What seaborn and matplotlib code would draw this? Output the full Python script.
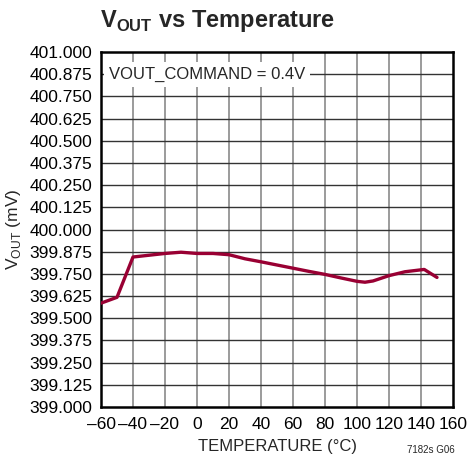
import matplotlib
matplotlib.use("Agg")
import matplotlib.pyplot as plt
from matplotlib import font_manager
import seaborn as sns
import pandas as pd

temperature = [-60, -50, -40, -30, -20, -10, 0, 10, 20, 30, 40, 50, 60, 70,
               80, 90, 100, 105, 110, 120, 130, 142, 150]
vout_mv = [399.585, 399.618, 399.845, 399.855, 399.865, 399.872, 399.865,
           399.865, 399.858, 399.835, 399.818, 399.800, 399.782, 399.764,
           399.747, 399.727, 399.708, 399.703, 399.710, 399.740, 399.762,
           399.775, 399.730]
x_ticks = list(range(-60, 161, 20))
y_ticks = [399.0 + 0.125 * i for i in range(17)]

df = pd.DataFrame({"Temperature": temperature, "Vout": vout_mv})

# narrow font if present, otherwise Arial-like
names = {f.name for f in font_manager.fontManager.ttflist}
font = "Liberation Sans Narrow" if "Liberation Sans Narrow" in names else "Liberation Sans"

sns.set_style("white")
plt.rcParams["font.family"] = [font, "DejaVu Sans"]
plt.rcParams["mathtext.fontset"] = "custom"
plt.rcParams["mathtext.rm"] = font
plt.rcParams["mathtext.bf"] = font + ":bold"

fig = plt.figure(figsize=(4.68, 4.72), dpi=100)
ax = fig.add_axes([101 / 468, 1 - 407 / 472, (453 - 101) / 468, (407 - 52) / 472])

sns.lineplot(data=df, x="Temperature", y="Vout", ax=ax, color="#990033",
             linewidth=2.4, zorder=3)

ax.set_xlim(-60, 160)
ax.set_ylim(399.0, 401.0)
ax.set_xticks(x_ticks)
ax.set_xticklabels([str(t).replace("-", "\u2013") for t in x_ticks])
ax.set_yticks(y_ticks)
ax.set_yticklabels([f"{v:.3f}" for v in y_ticks])
ax.tick_params(axis="both", labelsize=12.5, length=0, colors="black")
ax.tick_params(axis="x", pad=7)
ax.tick_params(axis="y", pad=6)

for t in x_ticks[1:-1]:
    ax.axvline(t, color="#808080", linewidth=1.1, zorder=1)
for v in y_ticks[1:-1]:
    ax.axhline(v, color="#333333", linewidth=1.0, zorder=1)

for s in ax.spines.values():
    s.set_visible(True)
    s.set_color("black")
    s.set_linewidth(1.8)

ax.set_xlabel("TEMPERATURE (°C)", fontsize=12, labelpad=5)
ax.set_ylabel("V$_{\\mathrm{OUT}}$ (mV)", fontsize=12.5, labelpad=5)

ax.text(-55, 400.875, "VOUT_COMMAND = 0.4V", fontsize=12, va="center",
        ha="left", zorder=4,
        bbox=dict(facecolor="white", edgecolor="none", pad=3.5))

fig.text(100 / 468, 1 - 21 / 472, "V$_{\\mathbf{OUT}}$ vs Temperature",
         fontsize=17, fontweight="bold", va="center", ha="left")
fig.text(455 / 468, 1 - 450 / 472, "7182s G06", fontsize=7, ha="right",
         va="center")

fig.savefig("out.png", dpi=100)
